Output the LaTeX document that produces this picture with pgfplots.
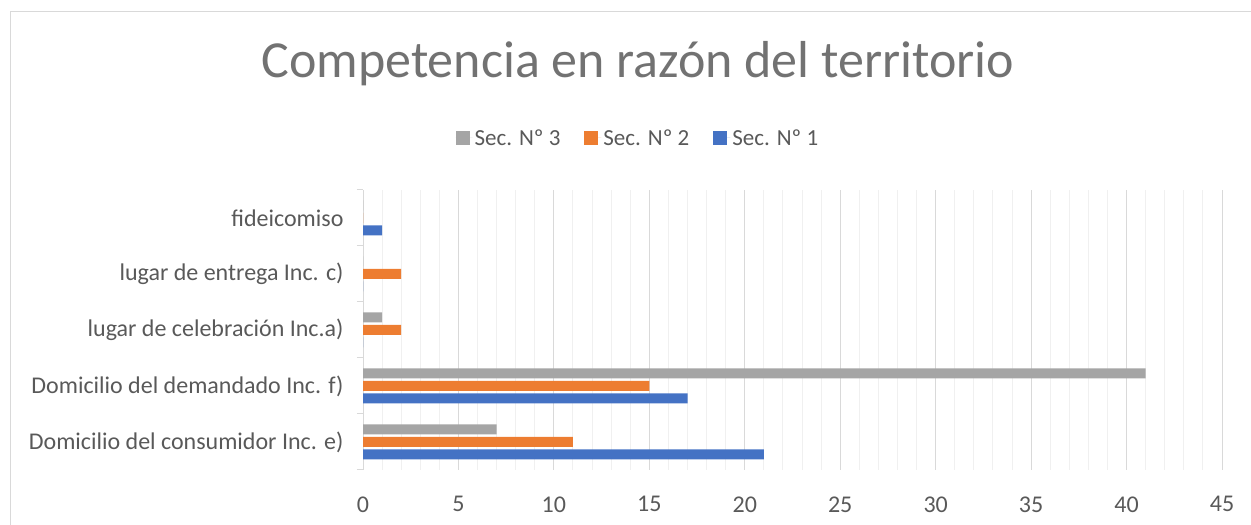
\documentclass[border=0pt]{standalone}
\usepackage{fontspec}
\setmainfont{Carlito}
\usepackage{pgfplots}
\pgfplotsset{compat=1.18}
\definecolor{s1}{HTML}{4472C4}
\definecolor{s2}{HTML}{ED7D31}
\definecolor{s3}{HTML}{A5A5A5}
\definecolor{txt}{HTML}{595959}
\definecolor{gridA}{HTML}{D9D9D9}
\definecolor{gridB}{HTML}{F0F0F0}
\begin{document}
\begin{tikzpicture}
\useasboundingbox (0,0) rectangle (1251pt,525pt);
\draw[gridA, line width=1pt] (10pt,-5pt) -- (10pt,513pt) -- (1260pt,513pt);
\begin{axis}[
  at={(363pt,55pt)}, anchor=south west,
  scale only axis, width=859pt, height=280pt,
  xbar=2.5pt, bar width=10pt,
  xmin=0, xmax=45, ymin=-0.5, ymax=4.5,
  xtick={0,5,...,45}, minor x tick num=4,
  xmajorgrids, xminorgrids,
  major grid style={gridA, line width=1pt},
  minor grid style={gridB, line width=1pt},
  major tick length=0pt, minor tick length=0pt,
  ytick={0,1,2,3,4},
  yticklabels={Domicilio del consumidor Inc. e), Domicilio del demandado Inc. f), lugar de celebración Inc.a), lugar de entrega Inc. c), fideicomiso},
  extra y ticks={-0.5,0.5,1.5,2.5,3.5,4.5},
  extra y tick labels={},
  extra y tick style={major tick length=6pt, tick align=outside, tick style={gridA, line width=1pt}},
  axis x line*=bottom, axis y line*=left,
  x axis line style={draw=none},
  y axis line style={gridA, line width=1pt, -},
  /pgf/number format/assume math mode=true,
  xticklabel style={font=\fontsize{24}{28}\selectfont, text=txt, yshift=-23pt},
  yticklabel style={font=\fontsize{24}{28}\selectfont, text=txt, xshift=-16pt},
  title={Competencia en razón del territorio},
  title style={at={(axis description cs:0.320,1.382)}, anchor=base, font=\fontsize{52}{60}\selectfont, text=txt!85},
  legend style={at={(axis description cs:0.320,1.186)}, anchor=center, draw=none, legend columns=3, font=\fontsize{23}{28}\selectfont, text=txt, /tikz/every even column/.append style={column sep=22pt}},
  legend image code/.code={\fill[#1] (0pt,-7pt) rectangle (14pt,7pt); \path (0pt,0pt) -- (17pt,0pt);},
  reverse legend,
]
\addplot[fill=s1, draw=none] coordinates {(21,0) (17,1) (0,2) (0,3) (1,4)};
\addplot[fill=s2, draw=none] coordinates {(11,0) (15,1) (2,2) (2,3) (0,4)};
\addplot[fill=s3, draw=none] coordinates {(7,0) (41,1) (1,2) (0,3) (0,4)};
\legend{Sec. Nº 1, Sec. Nº 2, Sec. Nº 3}
\end{axis}
\end{tikzpicture}
\end{document}
